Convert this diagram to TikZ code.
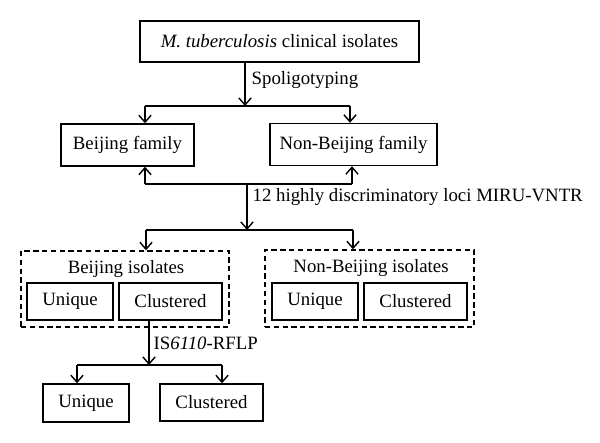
\documentclass[tikz,border=0pt]{standalone}
\usepackage{fontspec}
\setmainfont{Liberation Serif}
\usetikzlibrary{arrows.meta}
\begin{document}
\begin{tikzpicture}[>={Straight Barb[length=4pt,width=7pt]},line width=0.8pt,
  font=\fontsize{10.7}{12}\selectfont,
  box/.style={draw,inner sep=0pt,minimum height=0.74cm},
  group/.style={draw,dash pattern=on 3pt off 2pt,inner sep=0pt},
  tag/.style={anchor=west,inner sep=0pt}]

\useasboundingbox (0,0) rectangle (12,-8.86);

% groups first, boxes on top
\node[group,minimum width=4.16cm,minimum height=1.52cm] (bgrp) at (2.5,-5.78) {};
\node[group,minimum width=4.18cm,minimum height=1.54cm] (ngrp) at (7.39,-5.77) {};

\node[box,minimum width=5.58cm,minimum height=0.82cm] (isolates) at (5.59,-0.83) {\textit{M. tuberculosis} clinical isolates};
\node[box,minimum width=2.66cm,minimum height=0.84cm] (bfam) at (2.55,-2.9) {Beijing family};
\node[box,minimum width=3.34cm,minimum height=0.84cm] (nbfam) at (7.07,-2.89) {Non-Beijing family};

\node (btitle) at (2.52,-5.38) {Beijing isolates};
\node (ntitle) at (7.42,-5.36) {Non-Beijing isolates};
\node[box,minimum width=1.72cm] (buni) at (1.40,-6.03) {Unique};
\node[box,minimum width=2.06cm] (bclu) at (3.41,-6.03) {Clustered};
\node[box,minimum width=1.72cm] (nuni) at (6.30,-6.03) {Unique};
\node[box,minimum width=2.06cm] (nclu) at (8.31,-6.03) {Clustered};

\node[box,minimum width=1.72cm,minimum height=0.76cm] (runi) at (1.72,-8.06) {Unique};
\node[box,minimum width=2.06cm] (rclu) at (4.23,-8.05) {Clustered};

% spoligotyping
\coordinate (sp) at (4.90,-2.12);
\coordinate (sl) at (2.9,-2.12);
\coordinate (sr) at (7.0,-2.12);
\draw[->] (isolates.south -| sp)--(sp);
\node[tag] (spol) at (5.02,-1.6) {Spoligotyping};
\draw (sl)--(sr);
\draw[->] (sl)--(sl |- bfam.north);
\draw[->] (sr)--(sr |- nbfam.north);

% MIRU-VNTR
\coordinate (mu) at (4.94,-3.68);
\coordinate (ml) at (2.9,-3.68);
\coordinate (mr) at (7.04,-3.68);
\draw[->] (ml)--(ml |- bfam.south);
\draw (ml)--(mr);
\draw[->] (mr)--(mr |- nbfam.south);
\coordinate (md) at (4.94,-4.6);
\draw[->] (mu)--(md);
\node[tag] (miru) at (5.04,-3.94) {12 highly discriminatory loci MIRU-VNTR};
\coordinate (dl) at (2.92,-4.6);
\coordinate (dr) at (7.06,-4.6);
\draw (dl)--(dr);
\draw[->] (dl)--(dl |- bgrp.north);
\draw[->] (dr)--(dr |- ngrp.north);

% IS6110-RFLP
\coordinate (rf) at (2.98,-7.3);
\coordinate (rl) at (1.54,-7.3);
\coordinate (rr) at (4.44,-7.3);
\draw[->] (bclu.south -| rf)--(rf);
\node[tag] (rflp) at (3.06,-6.86) {IS\textit{6110}-RFLP};
\draw (rl)--(rr);
\draw[->] (rl)--(rl |- runi.north);
\draw[->] (rr)--(rr |- rclu.north);
\end{tikzpicture}
\end{document}
